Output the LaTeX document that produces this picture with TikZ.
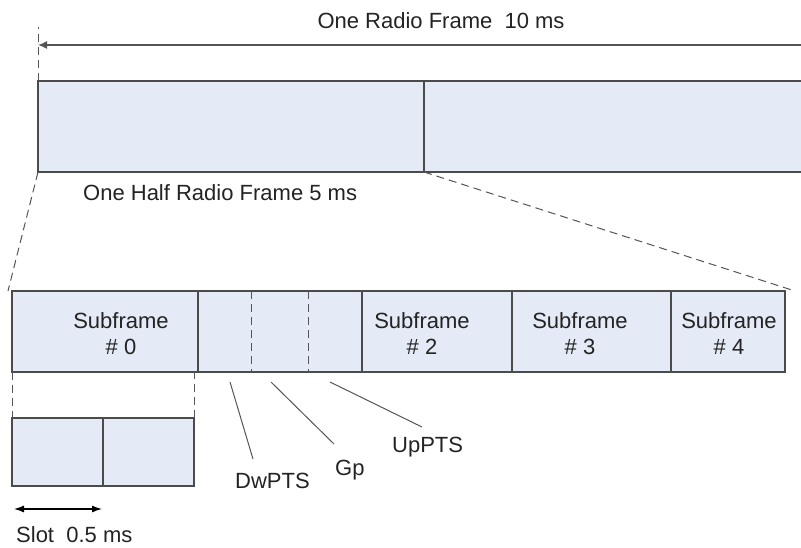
\documentclass[tikz,border=0pt]{standalone}
\usepackage{fontspec}
\setmainfont{Liberation Sans}
\usetikzlibrary{arrows.meta}
\definecolor{cellfill}{RGB}{228,235,246}
\definecolor{cellline}{RGB}{75,75,75}
\definecolor{dashgray}{RGB}{85,85,85}
\definecolor{textgray}{RGB}{35,35,35}
\begin{document}
\begin{tikzpicture}[x=1pt,y=-1pt,
        cell/.style={draw=cellline,fill=cellfill,line width=1.2pt,inner sep=0pt,outer sep=0pt,anchor=north west},
        zoomline/.style={draw=dashgray,line width=1pt,dash pattern=on 8pt off 5pt},
        leader/.style={draw=dashgray,line width=1pt},
        lbl/.style={text=textgray,inner sep=0pt,font=\fontsize{22}{26}\selectfont}]
        \useasboundingbox (0,0) rectangle (801,547);
        \draw (38,81)   node[cell,minimum width=386pt,minimum height=91pt] (half1) {};
        \draw (424,81)  node[cell,minimum width=390pt,minimum height=91pt] (half2) {};
        \draw (12,291)  node[cell,minimum width=186pt,minimum height=81pt] (sf0) {};
        \draw (198,291) node[cell,minimum width=164pt,minimum height=81pt] (sf1) {};
        \draw (362,291) node[cell,minimum width=150pt,minimum height=81pt] (sf2) {};
        \draw (512,291) node[cell,minimum width=159pt,minimum height=81pt] (sf3) {};
        \draw (671,291) node[cell,minimum width=114pt,minimum height=81pt] (sf4) {};
        \draw (12,418)  node[cell,minimum width=91pt,minimum height=68pt] (slot0) {};
        \draw (103,418) node[cell,minimum width=91pt,minimum height=68pt] (slot1) {};
        \draw[zoomline] (251,291) -- (251,372)
                        (308,291) -- (308,372);
        \draw (441,28)  node[lbl,anchor=base] (frame) {One Radio Frame\ \ 10 ms};
        \draw (83,200)  node[lbl,anchor=base west] (halfframe) {One Half Radio Frame 5 ms};
        \draw (121,334) node[lbl,align=center] (sf0txt) {Subframe\\\# 0};
        \draw (422,334) node[lbl,align=center] (sf2txt) {Subframe\\\# 2};
        \draw (580,334) node[lbl,align=center] (sf3txt) {Subframe\\\# 3};
        \draw (729,334) node[lbl,align=center] (sf4txt) {Subframe\\\# 4};
        \draw (235,488) node[lbl,anchor=base west] (dw) {DwPTS};
        \draw (335,475) node[lbl,anchor=base west] (gp) {Gp};
        \draw (392,452) node[lbl,anchor=base west] (up) {UpPTS};
        \draw (16,542)  node[lbl,anchor=base west] (slot) {Slot\ \ 0.5 ms};
        \coordinate (frameend) at (810,45);
        \coordinate (dwa) at (230,382);
        \coordinate (dwb) at (253,459);
        \coordinate (gpa) at (271,382);
        \coordinate (gpb) at (334,444);
        \coordinate (upa) at (330,382);
        \coordinate (upb) at (422,427);
        \draw[draw=dashgray,line width=1.5pt,-{Latex[length=9pt,width=8pt]}] (frameend) -- (frameend -| half1.west);
        \draw[zoomline] (half1.north west) -- ++(0,-54);
        \draw[zoomline] (half1.south west) -- ([xshift=-4pt]sf0.north west);
        \draw[zoomline] (half2.south west) -- ([xshift=10pt]sf4.north east);
        \draw[zoomline] (sf0.south west) -- (slot0.north west);
        \draw[zoomline] (slot1.north east) -- (slot1.north east |- sf0.south);
        \draw[leader] (dwa) -- (dwb);
        \draw[leader] (gpa) -- (gpb);
        \draw[leader] (upa) -- (upb);
        \draw[line width=1.2pt,{Latex[length=10pt,width=7pt]}-{Latex[length=10pt,width=7pt]}] ([xshift=2pt,yshift=-23pt]slot0.south west) -- ([xshift=-1pt,yshift=-23pt]slot0.south east);
\end{tikzpicture}
\end{document}
